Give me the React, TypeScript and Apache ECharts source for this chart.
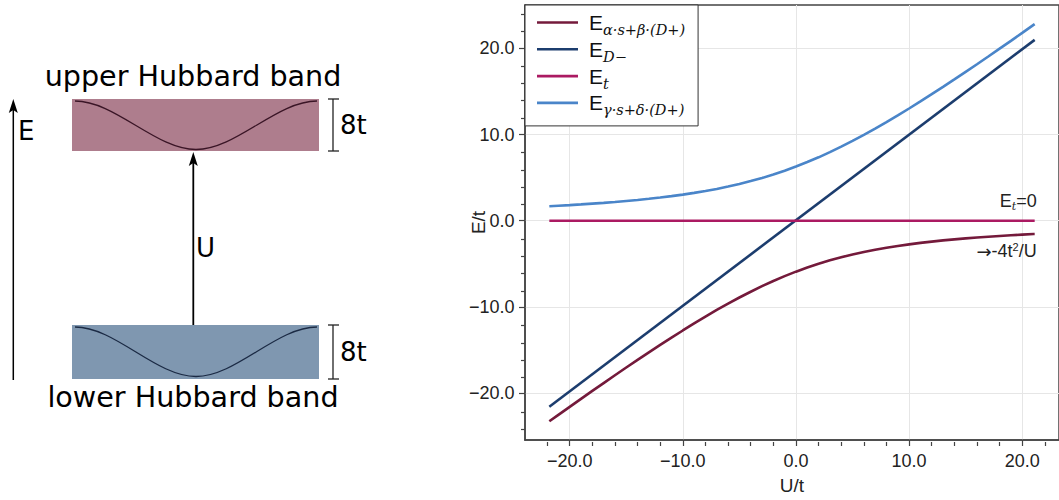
import React, { useEffect, useRef } from "react";
import * as echarts from "echarts";

// U/t sample points of the curves
const uValues = [
  -21.8, -21, -20, -19, -18, -17, -16, -15, -14, -13, -12, -11, -10, -9, -8, -7, -6, -5, -4, -3, -2, -1,
  0, 1, 2, 3, 4, 5, 6, 7, 8, 9, 10, 11, 12, 13, 14, 15, 16, 17, 18, 19, 20, 21, 21.1,
];
// E_{α·s+β·(D+)} (lower branch)
const eAlpha = [
  -23.3, -22.55, -21.62, -20.69, -19.77, -18.86, -17.95, -17.05, -16.17, -15.29, -14.43, -13.58, -12.75,
  -11.93, -11.14, -10.37, -9.63, -8.92, -8.25, -7.6, -7.0, -6.44, -5.92, -5.44, -5.0, -4.6, -4.25, -3.92,
  -3.63, -3.37, -3.14, -2.93, -2.75, -2.58, -2.43, -2.29, -2.17, -2.05, -1.95, -1.86, -1.77, -1.69, -1.62,
  -1.55, -1.55,
];
// E_{γ·s+δ·(D+)} (upper branch)
const eGamma = [
  1.68, 1.74, 1.81, 1.89, 1.98, 2.07, 2.17, 2.29, 2.41, 2.54, 2.69, 2.85, 3.03, 3.23, 3.45, 3.69, 3.96,
  4.26, 4.6, 4.96, 5.36, 5.81, 6.29, 6.81, 7.36, 7.96, 8.6, 9.26, 9.96, 10.69, 11.45, 12.23, 13.03, 13.85,
  14.69, 15.54, 16.41, 17.29, 18.17, 19.07, 19.98, 20.89, 21.81, 22.74, 22.83,
];
// E_{D−} straight line
const dMinusU = [-21.8, 21.1];
const eDMinus = [-21.6, 21.0];
// E_t flat line
const tU = [-21.8, 21.1];
const eT = [0, 0];

const xMajor = [-20, -10, 0, 10, 20];
const xMinor = [-22, -18, -16, -14, -12, -8, -6, -4, -2, 2, 4, 6, 8, 12, 14, 16, 18, 22];
const yMajor = [-20, -10, 0, 10, 20];
const yMinor = [-24, -22, -18, -16, -14, -12, -8, -6, -4, -2, 2, 4, 6, 8, 12, 14, 16, 18, 22, 24];

const legendNames = ["Ea", "ED", "Et", "Eg"];
const legendLabels: Record<string, string> = {
  Ea: "{m|E}{s|α·s+β·(D+)}",
  ED: "{m|E}{s|D−}",
  Et: "{m|E}{s|t}",
  Eg: "{m|E}{s|γ·s+δ·(D+)}",
};
const colors = ["#741a3b", "#1c3d6e", "#ab1a62", "#4a85c9"];

const X_MIN = -23.95;
const X_MAX = 23.25;
const Y_MIN = -25.47;
const Y_MAX = 25.05;

const FONT = "Liberation Sans";
const DFONT = "DejaVu Sans";
const AXIS_COLOR = "#444";

const fmtTick = (v: number) => (v < 0 ? "\u2212" + Math.abs(v).toFixed(1) : v.toFixed(1));

function arrowHead(x: number, tipY: number) {
  return {
    type: "polygon",
    shape: {
      points: [
        [x, tipY],
        [x - 4.5, tipY + 14],
        [x, tipY + 11],
        [x + 4.5, tipY + 14],
      ],
    },
    style: { fill: "#000" },
  };
}

function bandCurve(x0: number, x1: number, top: number, bottom: number, color: string) {
  const mid = (x0 + x1) / 2;
  const h = (mid - x0) / 3;
  return [
    {
      type: "bezierCurve",
      shape: { x1: x0, y1: top, cpx1: x0 + h, cpy1: top, cpx2: mid - h, cpy2: bottom, x2: mid, y2: bottom },
      style: { stroke: color, lineWidth: 1.3, fill: null },
    },
    {
      type: "bezierCurve",
      shape: { x1: mid, y1: bottom, cpx1: mid + h, cpy1: bottom, cpx2: x1 - h, cpy2: top, x2: x1, y2: top },
      style: { stroke: color, lineWidth: 1.3, fill: null },
    },
  ];
}

function bracket(x: number, y0: number, y1: number) {
  return [
    { type: "line", shape: { x1: x, y1: y0, x2: x, y2: y1 }, style: { stroke: "#222", lineWidth: 1.3 } },
    { type: "line", shape: { x1: x - 5, y1: y0, x2: x + 6, y2: y0 }, style: { stroke: "#222", lineWidth: 1.3 } },
    { type: "line", shape: { x1: x - 5, y1: y1, x2: x + 6, y2: y1 }, style: { stroke: "#222", lineWidth: 1.3 } },
  ];
}

function txt(text: string, x: number, y: number, size: number, align = "left") {
  return {
    type: "text",
    x,
    y,
    style: { text, fontSize: size, fontFamily: DFONT, fill: "#000", align, verticalAlign: "middle" },
  };
}

export default function App() {
  const ref = useRef<HTMLDivElement>(null);

  useEffect(() => {
    if (!ref.current) return;
    const chart = echarts.init(ref.current, null, { renderer: "svg" });

    const graphic: any[] = [
      // upper band
      { type: "rect", shape: { x: 72, y: 99, width: 247, height: 52 }, style: { fill: "#ae7d8d" } },
      ...bandCurve(75, 317, 101, 149.5, "#3a1526"),
      // lower band
      { type: "rect", shape: { x: 72, y: 325, width: 247, height: 54 }, style: { fill: "#7f97b0" } },
      ...bandCurve(75, 317, 327, 376.5, "#1b2a44"),
      ...bracket(333, 99, 151),
      ...bracket(333, 325, 379),
      txt("8t", 340, 125, 26),
      txt("8t", 340, 352, 26),
      txt("upper Hubbard band", 193, 76, 28.6, "center"),
      txt("lower Hubbard band", 193, 397, 28.6, "center"),
      // E arrow
      { type: "line", shape: { x1: 13.3, y1: 380, x2: 13.3, y2: 106 }, style: { stroke: "#000", lineWidth: 1.5 } },
      arrowHead(13.3, 99),
      txt("E", 18, 131, 26),
      // U arrow
      { type: "line", shape: { x1: 193.3, y1: 325, x2: 193.3, y2: 160 }, style: { stroke: "#000", lineWidth: 1.8 } },
      arrowHead(193.3, 152),
      txt("U", 196, 248, 26),
    ];

    const subStyle = { fontSize: 14.5, fontFamily: "DejaVu Serif", fontStyle: "italic", color: "#111", lineHeight: 12, verticalAlign: "bottom" };

    const mkLine = (name: string, xs: number[], ys: number[], color: string, extra: any = {}) => ({
      type: "line",
      name,
      data: xs.map((u, i) => [u, ys[i]]),
      showSymbol: false,
      symbol: "none",
      lineStyle: { width: 2.6, color },
      itemStyle: { color },
      xAxisIndex: 0,
      yAxisIndex: 0,
      z: 3,
      ...extra,
    });

    chart.setOption({
      animation: false,
      backgroundColor: "#fff",
      graphic,
      grid: [
        { left: 525, right: -4, top: 5, bottom: 58, show: true, borderColor: AXIS_COLOR, borderWidth: 1.5 },
        { left: 525, right: -4, top: 5, bottom: 58 },
      ],
      xAxis: [
        {
          type: "value",
          gridIndex: 0,
          min: X_MIN,
          max: X_MAX,
          position: "bottom",
          axisLine: { show: true, onZero: false, lineStyle: { color: AXIS_COLOR, width: 1.5 } },
          axisTick: { show: true, customValues: xMajor, length: 6, lineStyle: { color: AXIS_COLOR, width: 1.2 } },
          axisLabel: {
            show: true,
            customValues: xMajor,
            formatter: fmtTick,
            fontSize: 18,
            fontFamily: FONT,
            color: "#222",
            margin: 12,
          },
          splitLine: { show: true, lineStyle: { color: "#e6e6e6", width: 1 } },
          name: "U/t",
          nameLocation: "middle",
          nameGap: 36,
          nameMoveOverlap: false,
          nameTextStyle: { fontSize: 19, fontFamily: FONT, color: "#222" },
        },
        {
          type: "value",
          gridIndex: 1,
          min: X_MIN,
          max: X_MAX,
          position: "bottom",
          axisLine: { show: false, onZero: false },
          axisTick: { show: true, customValues: xMinor, length: 4, lineStyle: { color: AXIS_COLOR, width: 1.2 } },
          axisLabel: { show: false },
          splitLine: { show: false },
        },
      ],
      yAxis: [
        {
          type: "value",
          gridIndex: 0,
          min: Y_MIN,
          max: Y_MAX,
          position: "left",
          axisLine: { show: true, onZero: false, lineStyle: { color: AXIS_COLOR, width: 1.5 } },
          axisTick: { show: true, customValues: yMajor, length: 6, lineStyle: { color: AXIS_COLOR, width: 1.2 } },
          axisLabel: {
            show: true,
            customValues: yMajor,
            formatter: fmtTick,
            fontSize: 18,
            fontFamily: FONT,
            color: "#222",
            margin: 10.5,
          },
          splitLine: { show: true, lineStyle: { color: "#e6e6e6", width: 1 } },
          name: "E/t",
          nameLocation: "middle",
          nameGap: 37,
          nameRotate: 90,
          nameMoveOverlap: false,
          nameTextStyle: { fontSize: 19, fontFamily: FONT, color: "#222" },
        },
        {
          type: "value",
          gridIndex: 1,
          min: Y_MIN,
          max: Y_MAX,
          position: "left",
          axisLine: { show: false, onZero: false },
          axisTick: { show: true, customValues: yMinor, length: 4, lineStyle: { color: AXIS_COLOR, width: 1.2 } },
          axisLabel: { show: false },
          splitLine: { show: false },
        },
      ],
      legend: {
        data: legendNames,
        orient: "vertical",
        left: 525,
        top: 5,
        backgroundColor: "#fff",
        borderColor: "#333",
        borderWidth: 1,
        borderRadius: 0,
        padding: [7, 13, 8, 12],
        icon: "rect",
        itemWidth: 41,
        itemHeight: 2.6,
        itemGap: 1.3,
        formatter: (name: string) => legendLabels[name],
        textStyle: {
          padding: [0, 0, 0, 6],
          rich: {
            m: { fontSize: 21, fontFamily: FONT, color: "#111", lineHeight: 30 },
            s: subStyle,
          },
        },
        z: 10,
      },
      series: [
        mkLine("Ea", uValues, eAlpha, colors[0], {
          markPoint: {
            symbol: "circle",
            symbolSize: 0,
            silent: true,
            data: [{ coord: [uValues[uValues.length - 1], eAlpha[eAlpha.length - 1]] }],
            label: {
              show: true,
              position: [0, 0],
              align: "right",
              verticalAlign: "middle",
              offset: [2, 17],
              formatter: "{a|→}{b|-4t}{c|2}{b|/U}",
              rich: {
                a: { fontSize: 18, fontFamily: DFONT, color: "#222", lineHeight: 20 },
                b: { fontSize: 18, fontFamily: FONT, color: "#222", lineHeight: 20 },
                c: { fontSize: 11, fontFamily: FONT, color: "#222", lineHeight: 11, verticalAlign: "top" },
              },
            },
          },
        }),
        mkLine("ED", dMinusU, eDMinus, colors[1]),
        mkLine("Et", tU, eT, colors[2], {
          markPoint: {
            symbol: "circle",
            symbolSize: 0,
            silent: true,
            data: [{ coord: [tU[1], eT[1]] }],
            label: {
              show: true,
              position: [0, 0],
              align: "right",
              verticalAlign: "bottom",
              offset: [2, -9],
              formatter: "{b|E}{s|t}{b|=0}",
              rich: {
                b: { fontSize: 18, fontFamily: FONT, color: "#222", lineHeight: 22 },
                s: { fontSize: 11, fontFamily: "DejaVu Serif", fontStyle: "italic", color: "#222", lineHeight: 10, verticalAlign: "bottom" },
              },
            },
          },
        }),
        mkLine("Eg", uValues, eGamma, colors[3]),
      ],
    });

    return () => chart.dispose();
  }, []);

  return <div ref={ref} style={{ position: "absolute", left: 0, top: 0, width: 1059, height: 500 }} />;
}
